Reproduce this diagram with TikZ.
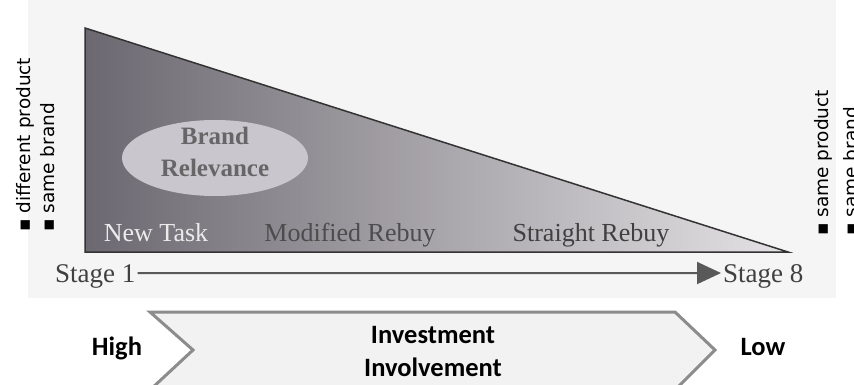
\documentclass[tikz,border=0pt]{standalone}
\usepackage{fontspec}
\setmainfont{Liberation Serif}
\newfontfamily\chevfont{Carlito}
\newfontfamily\notefont{DejaVu Sans}
\usetikzlibrary{arrows.meta, positioning, shapes.geometric}

\definecolor{paper}{HTML}{F5F5F5}
\definecolor{wedgedark}{HTML}{6C6871}
\definecolor{wedgemid}{HTML}{C3C1C5}
\definecolor{wedgelight}{HTML}{E4E2E4}
\definecolor{oval}{HTML}{C9C6CE}
\definecolor{chevfill}{HTML}{F2F2F2}
\definecolor{chevline}{HTML}{8C8C8C}

\begin{document}
\begin{tikzpicture}[
        x=1pt, y=-1pt,
        wedge/.style={draw=black!80, line width=1.5pt, left color=wedgedark, middle color=wedgemid, right color=wedgelight},
        buytype/.style={font=\fontsize{26}{30}\selectfont, anchor=base},
        stage/.style={font=\fontsize{27}{30}\selectfont, text=black!75, anchor=base west, inner sep=2pt, text depth=0pt},
        flow/.style={-{Triangle[length=24pt, width=22pt]}, line width=2pt, draw=black!65, fill=black!65},
        note/.style={font=\notefont\fontsize{18.5}{22}\selectfont, rotate=90, anchor=west, inner sep=0pt},
        level/.style={font=\chevfont\bfseries\fontsize{26.5}{33}\selectfont, align=center},
        chevron/.style={draw=chevline, fill=chevfill, line width=3pt, line join=miter}
    ]
        \useasboundingbox (0,0) rectangle (854,385);
        \fill[paper] (28,0) rectangle (836,298);

        % Wedge
        \draw[wedge] (85,28) -- (85,252) -- (788,252) -- cycle;
        \node[ellipse, fill=oval, minimum width=186pt, minimum height=76pt] (relevance) at (215,158) {};
        \node[font=\bfseries\fontsize{25}{32}\selectfont, text=black!60, align=center] (brand) at ([yshift=6pt]relevance.center) {Brand\\Relevance};

        % Buying situations
        \node[buytype, text=white!92!black] (newtask) at (156,241) {New Task};
        \node[buytype, text=black!70] (modified) at (350,241) {Modified Rebuy};
        \node[buytype, text=black!75] (straight) at (591,241) {Straight Rebuy};

        % Stages
        \node[stage] (stage1) at (53,282) {Stage 1};
        \node[stage] (stage8) at (721,282) {Stage 8};
        \draw[flow] (stage1.east) -- (stage8.west);

        % Side notes
        \node[note] (diffprod) at (25,232) {▪ different product};
        \node[note] (samebrand) at (48,232) {▪ same brand};
        \node[note] (sameprod) at (823,236) {▪ same product};
        \node[note] (samebrand2) at (851,236) {▪ same brand};

        % Chevron
        \draw[chevron] (150,312) -- (675,312) -- (715,350) -- (675,390) -- (150,390) -- (193,350) -- cycle;
        \node[level] (invest) at (433,352) {Investment\\Involvement};
        \node[level, anchor=base] (high) at (117,355) {High};
        \node[level, anchor=base] (low) at (763,355) {Low};
    \end{tikzpicture}
\end{document}
